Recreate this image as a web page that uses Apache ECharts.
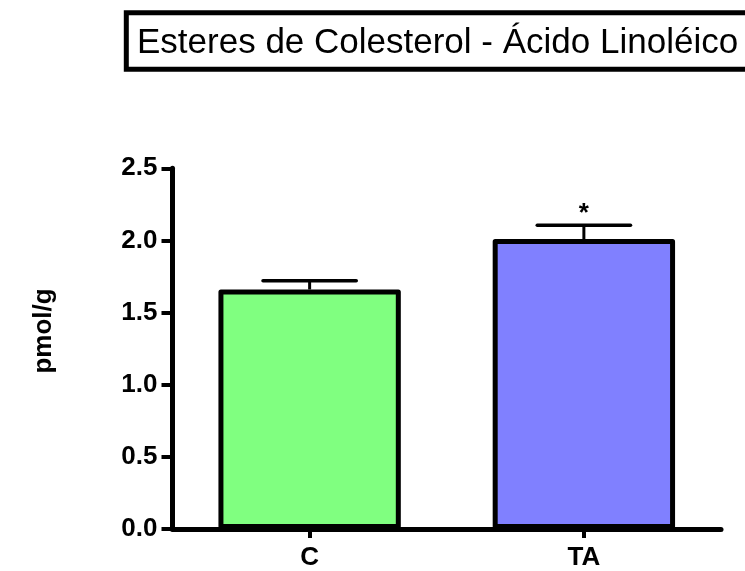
<!DOCTYPE html>
<html>
<head>
<meta charset="utf-8">
<script src="https://cdn.jsdelivr.net/npm/echarts@6/dist/echarts.min.js"></script>
<style>
html,body{margin:0;padding:0;background:#fff;}
#chart{width:745px;height:571px;}
</style>
</head>
<body>
<div id="chart"></div>
<script>
const titleText = 'Esteres de Colesterol - Ácido Linoléico';
const yAxisName = 'pmol/g';
const categories = ['C', 'TA'];
const means = [1.66, 2.01];
const sem = [0.06, 0.095];
const significance = ['', '*'];
const yTicks = { min: 0, max: 2.5, interval: 0.5 };
const barColors = ['#80ff80', '#8080ff'];

const FONT = '"Liberation Sans", Arial, sans-serif';
const chart = echarts.init(document.getElementById('chart'), null, { renderer: 'canvas' });

const errData = categories.map((c, i) => [i, means[i], means[i] + sem[i], significance[i]]);

chart.setOption({
  animation: false,
  backgroundColor: '#ffffff',
  grid: { left: 172.5, right: 24, top: 168.3, bottom: 39.3 },
  graphic: [
    {
      type: 'rect', z: 10,
      shape: { x: 126.3, y: 12.8, width: 700, height: 56.4 },
      style: { fill: '#ffffff', stroke: '#000', lineWidth: 5 }
    },
    {
      type: 'text', z: 11, x: 137, y: 43,
      style: { text: titleText, font: '35px ' + FONT, fill: '#000', verticalAlign: 'middle', align: 'left' }
    },
    {
      type: 'text', z: 11, x: 44, y: 331, rotation: Math.PI / 2,
      style: { text: yAxisName, font: 'bold 26px ' + FONT, fill: '#000', verticalAlign: 'middle', align: 'center' }
    }
  ],
  xAxis: {
    type: 'category',
    data: categories,
    boundaryGap: true,
    axisLine: { show: true, lineStyle: { color: '#000', width: 5 } },
    axisTick: { show: true, alignWithLabel: true, length: 9, lineStyle: { color: '#000', width: 4 } },
    axisLabel: { color: '#000', fontFamily: FONT, fontWeight: 'bold', fontSize: 26, margin: 16 },
    splitLine: { show: false }
  },
  yAxis: {
    type: 'value',
    min: yTicks.min, max: yTicks.max, interval: yTicks.interval,
    axisLine: { show: true, lineStyle: { color: '#000', width: 5 } },
    axisTick: { show: true, length: 11, lineStyle: { color: '#000', width: 4 } },
    axisLabel: { color: '#000', fontFamily: FONT, fontWeight: 'bold', fontSize: 26, margin: 15,
      formatter: v => v.toFixed(1) },
    splitLine: { show: false }
  },
  series: [
    {
      type: 'bar',
      barWidth: '66.5%',
      z: 2,
      data: means.map((v, i) => ({
        value: v,
        itemStyle: { color: barColors[i], borderColor: '#000', borderWidth: 5, borderJoin: 'round' }
      }))
    },
    {
      type: 'custom',
      z: 3,
      data: errData,
      renderItem: function (params, api) {
        const i = api.value(0);
        const base = api.coord([i, api.value(1)]);
        const top = api.coord([i, api.value(2)]);
        const half = api.size([1, 0])[0] * 0.17;
        const sig = errData[params.dataIndex][3];
        const children = [
          { type: 'line', shape: { x1: base[0], y1: base[1], x2: top[0], y2: top[1] },
            style: { stroke: '#000', lineWidth: 3 } },
          { type: 'line', shape: { x1: top[0] - half, y1: top[1], x2: top[0] + half, y2: top[1] },
            style: { stroke: '#000', lineWidth: 3.5, lineCap: 'round' } }
        ];
        if (sig) {
          children.push({ type: 'text', x: top[0], y: top[1] - 11,
            style: { text: sig, font: 'bold 26px ' + FONT, fill: '#000', align: 'center', verticalAlign: 'middle' } });
        }
        return { type: 'group', children: children };
      }
    }
  ]
});
</script>
</body>
</html>
